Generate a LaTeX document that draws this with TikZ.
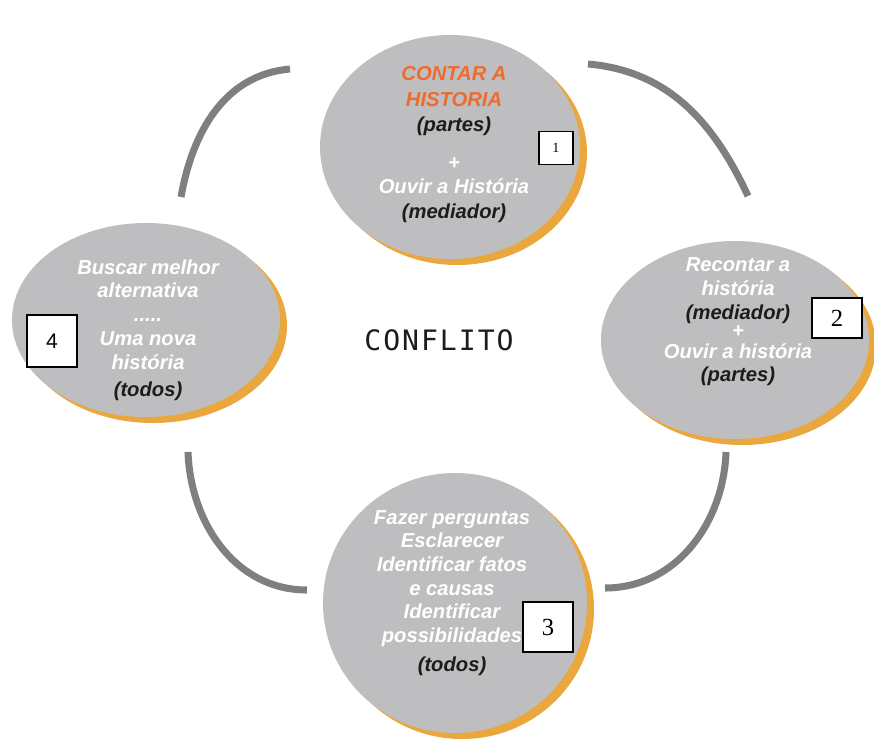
\documentclass[tikz,border=0pt]{standalone}
\usepackage{fontspec}
\setsansfont{Liberation Sans}
\newfontfamily\numfont{Liberation Serif}
\newfontfamily\conffont[LetterSpace=7]{DejaVu Sans Mono}
\usetikzlibrary{positioning,calc}
\definecolor{discgray}{HTML}{BEBEC0}
\definecolor{rimorange}{HTML}{E9A73D}
\definecolor{arcgray}{HTML}{7F7F7F}
\definecolor{accent}{HTML}{EE6B2D}
\definecolor{ink}{HTML}{1C1C1C}
\newcommand{\who}[1]{\textcolor{ink}{#1}}

\begin{document}
\begin{tikzpicture}[x=0.02cm, y=0.02cm,
  disc/.style={fill=discgray},
  rim/.style={fill=rimorange},
  ring/.style={draw=arcgray, line width=4pt},
  txt/.style={align=center, text=white, inner sep=0pt,
    font=\sffamily\bfseries\itshape\fontsize{11.5}{13.5}\selectfont},
  numbox/.style={draw=black, fill=white, line width=0.6pt, inner sep=0pt}]
  \useasboundingbox (0,0) rectangle (874,738);

  % the four discs, each with an orange rim peeking out bottom right
  \foreach \name/\cx/\cy/\rx/\ry in {top/450/591/130/112, right/735/398/134/99,
      bottom/455/135/132/130, left/146/418/134/97} {
    \fill[rim] (\cx+7,\cy-6) ellipse [x radius=\rx, y radius=\ry];
    \fill[disc] (\cx,\cy) ellipse [x radius=\rx, y radius=\ry];
    \coordinate (\name) at (\cx,\cy);
  }

  % arcs between the discs
  \coordinate (tl-a) at (290,669); \coordinate (tl-b) at (181,541);
  \coordinate (tr-a) at (588,674); \coordinate (tr-b) at (748,542);
  \coordinate (bl-a) at (188,286); \coordinate (bl-b) at (307,148);
  \coordinate (br-a) at (726,286); \coordinate (br-b) at (605,150);
  \draw[ring] (tl-a) to[out=185, in=80] (tl-b);
  \draw[ring] (tr-a) to[out=-5, in=115] (tr-b);
  \draw[ring] (bl-a) to[out=-88, in=180] (bl-b);
  \draw[ring] (br-a) to[out=-92, in=0] (br-b);

  \node[txt, font=\sffamily\bfseries\itshape\fontsize{11.5}{14.5}\selectfont]
    (top-txt) at (454,593)
    {\textcolor{accent}{CONTAR A}\\ \textcolor{accent}{HISTORIA}\\
    \who{(partes)}\\[7pt] +\\[-1pt] Ouvir a História\\ \who{(mediador)}};
  \node[txt] (right-txt) at (738,416) {Recontar a\\ história\\
    \who{(mediador)}\\[-3pt] +\\[-2pt] Ouvir a história\\ \who{(partes)}};
  \node[txt] (bottom-txt) at (452,145) {Fazer perguntas\\ Esclarecer\\
    Identificar fatos\\ e causas\\ Identificar\\ possibilidades\\[3pt]
    \who{(todos)}};
  \node[txt] (left-txt) at (148,408) {Buscar melhor\\ alternativa\\ .....\\
    Uma nova\\ história\\[2pt] \who{(todos)}};

  \node[font=\conffont\fontsize{16}{19}\selectfont, text=ink] (conflito) at (439,398) {CONFLITO};

  % step numbers
  \node[numbox, minimum width=0.68cm, minimum height=0.66cm,
    font=\numfont\fontsize{8}{9}\selectfont] (n1) at (556,590) {1};
  \node[numbox, minimum width=1cm, minimum height=0.8cm,
    font=\numfont\fontsize{14}{16}\selectfont] (n2) at (837,420) {2};
  \node[numbox, minimum width=1cm, minimum height=1cm,
    font=\numfont\fontsize{14}{16}\selectfont] (n3) at (548,111) {3};
  \node[numbox, minimum width=1cm, minimum height=1.04cm,
    font=\sffamily\fontsize{12}{14}\selectfont] (n4) at (52,397) {4};
\end{tikzpicture}
\end{document}
